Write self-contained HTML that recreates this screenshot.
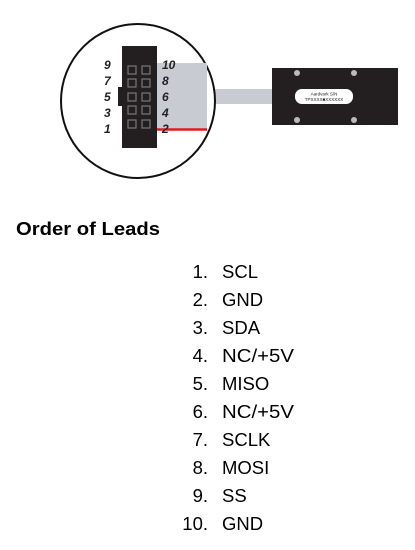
<!DOCTYPE html>
<html><head><style>body{margin:0;background:#fff}svg{display:block}</style></head><body>
<svg width="415" height="550" xmlns="http://www.w3.org/2000/svg" font-family="Liberation Sans, sans-serif">
<rect width="415" height="550" fill="#fff"/>
<rect x="207" y="89" width="66" height="15" fill="#c8ccd2"/>
<circle cx="138" cy="101" r="77" fill="#fff" stroke="#111" stroke-width="2"/>
<rect x="157" y="63" width="50" height="66" fill="#c8ccd2"/>
<line x1="157" y1="129.5" x2="207" y2="129.5" stroke="#e21b22" stroke-width="2.5"/>
<rect x="122" y="46" width="35" height="102" fill="#231f20"/>
<rect x="118" y="87" width="5" height="19" fill="#231f20"/>
<g fill="none" stroke="#777" stroke-width="1.2">
<rect x="128" y="66" width="8" height="8"/><rect x="142" y="66" width="8" height="8"/>
<rect x="128" y="79" width="8" height="8"/><rect x="142" y="79" width="8" height="8"/>
<rect x="128" y="93" width="8" height="8"/><rect x="142" y="93" width="8" height="8"/>
<rect x="128" y="106" width="8" height="8"/><rect x="142" y="106" width="8" height="8"/>
<rect x="128" y="120" width="8" height="8"/><rect x="142" y="120" width="8" height="8"/>
</g>
<g font-size="12" font-weight="bold" font-style="italic" fill="#222">
<text x="104" y="69">9</text><text x="104" y="85">7</text><text x="104" y="101">5</text><text x="104" y="117">3</text><text x="104" y="133">1</text>
<text x="162" y="69">10</text><text x="162" y="85">8</text><text x="162" y="101">6</text><text x="162" y="117">4</text><text x="162" y="133">2</text>
</g>
<rect x="272" y="68" width="126" height="57" fill="#231f20"/>
<rect x="295" y="89" width="58" height="15" rx="7" fill="#fff"/>
<text x="324" y="95.5" font-size="4.5" text-anchor="middle" fill="#222">Aardvark S/N</text>
<text x="324" y="101" font-size="4.5" text-anchor="middle" fill="#222">TPXXXX■XXXXXX</text>
<g fill="#bbb"><circle cx="297" cy="73" r="3"/><circle cx="354" cy="73" r="3"/><circle cx="297" cy="120" r="3"/><circle cx="354" cy="120" r="3"/></g>
<text x="16" y="235" font-size="18.5" font-weight="bold" fill="#000" textLength="144" lengthAdjust="spacingAndGlyphs">Order of Leads</text>
<g font-size="18.5" fill="#000">
<g text-anchor="end">
<text x="208" y="278">1.</text><text x="208" y="306">2.</text><text x="208" y="334">3.</text><text x="208" y="362">4.</text><text x="208" y="390">5.</text><text x="208" y="418">6.</text><text x="208" y="446">7.</text><text x="208" y="474">8.</text><text x="208" y="502">9.</text><text x="208" y="530">10.</text>
</g>
<text x="222" y="278">SCL</text><text x="222" y="306">GND</text><text x="222" y="334">SDA</text><text x="222" y="362" textLength="72" lengthAdjust="spacingAndGlyphs">NC/+5V</text><text x="222" y="390">MISO</text><text x="222" y="418" textLength="72" lengthAdjust="spacingAndGlyphs">NC/+5V</text><text x="222" y="446">SCLK</text><text x="222" y="474">MOSI</text><text x="222" y="502">SS</text><text x="222" y="530">GND</text>
</g>
</svg>
</body></html>
